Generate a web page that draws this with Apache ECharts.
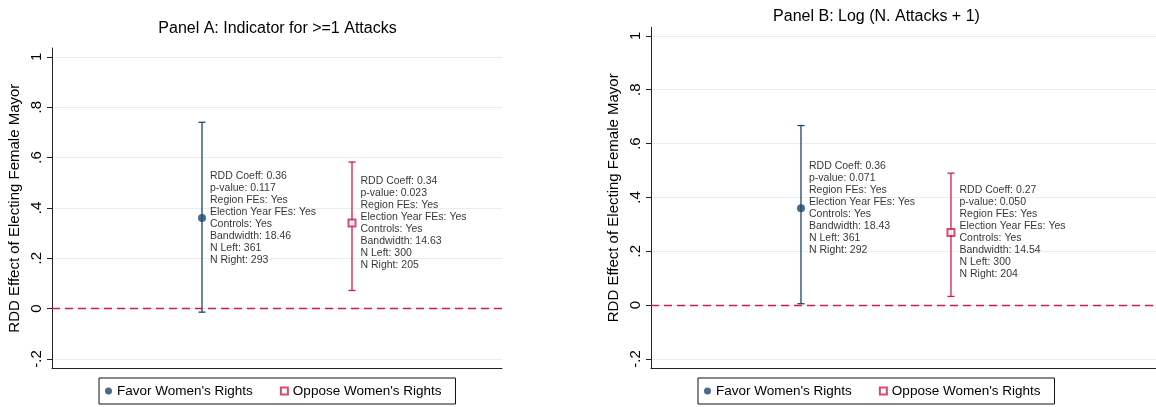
<!DOCTYPE html>
<html>
<head>
<meta charset="utf-8">
<script src="https://cdn.jsdelivr.net/npm/echarts@6.0.0/dist/echarts.min.js"></script>
<style>
  html, body { margin: 0; padding: 0; background: #fff; }
  #chart { width: 1156px; height: 407px; }
</style>
</head>
<body>
<div id="chart"></div>
<script>
// Group positions on the x axis (1 = favor, 2 = oppose)
const groupX = [1, 2];
const groupNames = ["Favor Women's Rights", "Oppose Women's Rights"];

// Panel A: indicator for >= 1 attacks
const coefA = [0.36, 0.34];
const ciLowA = [-0.014, 0.072];
const ciHighA = [0.740, 0.582];
const pValueA = ["0.117", "0.023"];
const bandwidthA = ["18.46", "14.63"];
const nLeftA = [361, 300];
const nRightA = [293, 205];

// Panel B: log(N. attacks + 1)
const coefB = [0.36, 0.27];
const ciLowB = [0.005, 0.032];
const ciHighB = [0.667, 0.490];
const pValueB = ["0.071", "0.050"];
const bandwidthB = ["18.43", "14.54"];
const nLeftB = [361, 300];
const nRightB = [292, 204];

// Y axis tick values
const yTicks = [-0.2, 0, 0.2, 0.4, 0.6, 0.8, 1];

const BLUE = '#1a476f';
const RED = '#cc1f4a';
const INK = '#000';
const FONT = '"Liberation Sans", Arial, Helvetica, sans-serif';

function tickFmt(v) {
  if (Math.abs(v) < 1e-9) return '0';
  const s = String(Math.round(Math.abs(v) * 10) / 10).replace(/^0/, '');
  return (v < 0 ? '-' : '') + s;
}

function noteText(coef, p, bw, nl, nr) {
  return [
    'RDD Coeff: ' + coef.toFixed(2),
    'p-value: ' + p,
    'Region FEs: Yes',
    'Election Year FEs: Yes',
    'Controls: Yes',
    'Bandwidth: ' + bw,
    'N Left: ' + nl,
    'N Right: ' + nr
  ].join('\n');
}

// Vertical confidence interval with short caps at both ends
function errorBar(params, api) {
  const x = api.value(0);
  const top = api.coord([x, api.value(2)]);
  const bot = api.coord([x, api.value(1)]);
  const half = 3.5;
  const style = { stroke: api.visual('color'), lineWidth: 1.3, fill: null };
  return {
    type: 'group',
    children: [
      { type: 'line', shape: { x1: top[0], y1: top[1], x2: bot[0], y2: bot[1] }, style },
      { type: 'line', shape: { x1: top[0] - half, y1: top[1], x2: top[0] + half, y2: top[1] }, style },
      { type: 'line', shape: { x1: bot[0] - half, y1: bot[1], x2: bot[0] + half, y2: bot[1] }, style }
    ]
  };
}

function yAxisFor(grid, min, max) {
  return {
    type: 'value', gridIndex: grid, min: min, max: max,
    name: 'RDD Effect of Electing Female Mayor',
    nameLocation: 'middle', nameRotate: 90, nameGap: 30,
    nameTextStyle: { fontSize: 15, color: INK, fontFamily: FONT },
    axisLine: { show: true, onZero: false, lineStyle: { color: '#222', width: 1 } },
    axisTick: { show: true, length: 5, customValues: yTicks, lineStyle: { color: '#222' } },
    axisLabel: { customValues: yTicks, rotate: 90, margin: 8, fontSize: 15, color: INK,
                 fontFamily: FONT, formatter: tickFmt },
    splitLine: { show: true, lineStyle: { color: '#e5eef1', width: 1 } }
  };
}

function xAxisFor(grid, max) {
  return {
    type: 'value', gridIndex: grid, min: 0, max: max, position: 'bottom',
    axisLine: { show: true, onZero: false, lineStyle: { color: '#222', width: 1 } },
    axisTick: { show: false }, axisLabel: { show: false }, splitLine: { show: false }
  };
}

function panelSeries(idx, coef, lo, hi, pv, bw, nl, nr) {
  const colors = [BLUE, RED];
  const symbols = ['circle', 'emptyRect'];
  const sizes = [8, 7];
  const out = [];
  for (let g = 0; g < 2; g++) {
    out.push({
      type: 'custom', name: 'ci-' + idx + '-' + g,
      xAxisIndex: idx, yAxisIndex: idx,
      renderItem: errorBar,
      itemStyle: { color: colors[g] },
      encode: { x: 0, y: [1, 2] },
      data: [[groupX[g], lo[g], hi[g]]],
      z: 2, silent: true
    });
  }
  for (let g = 0; g < 2; g++) {
    const s = {
      type: 'scatter', name: groupNames[g],
      xAxisIndex: idx, yAxisIndex: idx,
      symbol: symbols[g], symbolSize: sizes[g],
      itemStyle: { color: colors[g], borderColor: colors[g], borderWidth: g === 1 ? 1.3 : 0 },
      data: [[groupX[g], coef[g]]],
      z: 5, silent: true,
      label: {
        show: true, position: 'right', distance: 4,
        formatter: noteText(coef[g], pv[g], bw[g], nl[g], nr[g]),
        fontSize: 10.5, lineHeight: 12, color: INK, fontFamily: FONT
      }
    };
    if (g === 0) {
      // dashed reference line at zero effect
      s.markLine = {
        silent: true, symbol: 'none', label: { show: false },
        lineStyle: { color: RED, type: [8, 5], width: 1.3 },
        data: [{ yAxis: 0 }]
      };
    }
    out.push(s);
  }
  return out;
}

function legendFor(left) {
  return {
    left: left, top: 378, orient: 'horizontal',
    data: groupNames,
    itemWidth: 7, itemHeight: 7, itemGap: 27,
    padding: [6, 14, 6, 6],
    borderColor: '#111', borderWidth: 1, backgroundColor: '#fff',
    selectedMode: false,
    textStyle: { fontSize: 13.5, color: INK, fontFamily: FONT }
  };
}

const chart = echarts.init(document.getElementById('chart'), null, { renderer: 'canvas' });
chart.setOption({
  animation: false,
  backgroundColor: '#fff',
  textStyle: { fontFamily: FONT },
  title: [
    { text: 'Panel A: Indicator for >=1 Attacks', left: 277.5, textAlign: 'center', top: 21, padding: 0,
      textStyle: { fontSize: 16, fontWeight: 'normal', color: INK, fontFamily: FONT } },
    { text: 'Panel B: Log (N. Attacks + 1)', left: 876.5, textAlign: 'center', top: 9, padding: 0,
      textStyle: { fontSize: 16, fontWeight: 'normal', color: INK, fontFamily: FONT } }
  ],
  legend: [legendFor(99), legendFor(698)],
  grid: [
    { left: 52, top: 48, width: 450, height: 320.3 },
    { left: 651, top: 27.3, width: 505, height: 341 }
  ],
  xAxis: [xAxisFor(0, 3), xAxisFor(1, 3.367)],
  yAxis: [yAxisFor(0, -0.237, 1.035), yAxisFor(1, -0.235, 1.032)],
  series: [].concat(
    panelSeries(0, coefA, ciLowA, ciHighA, pValueA, bandwidthA, nLeftA, nRightA),
    panelSeries(1, coefB, ciLowB, ciHighB, pValueB, bandwidthB, nLeftB, nRightB)
  )
});
</script>
</body>
</html>
